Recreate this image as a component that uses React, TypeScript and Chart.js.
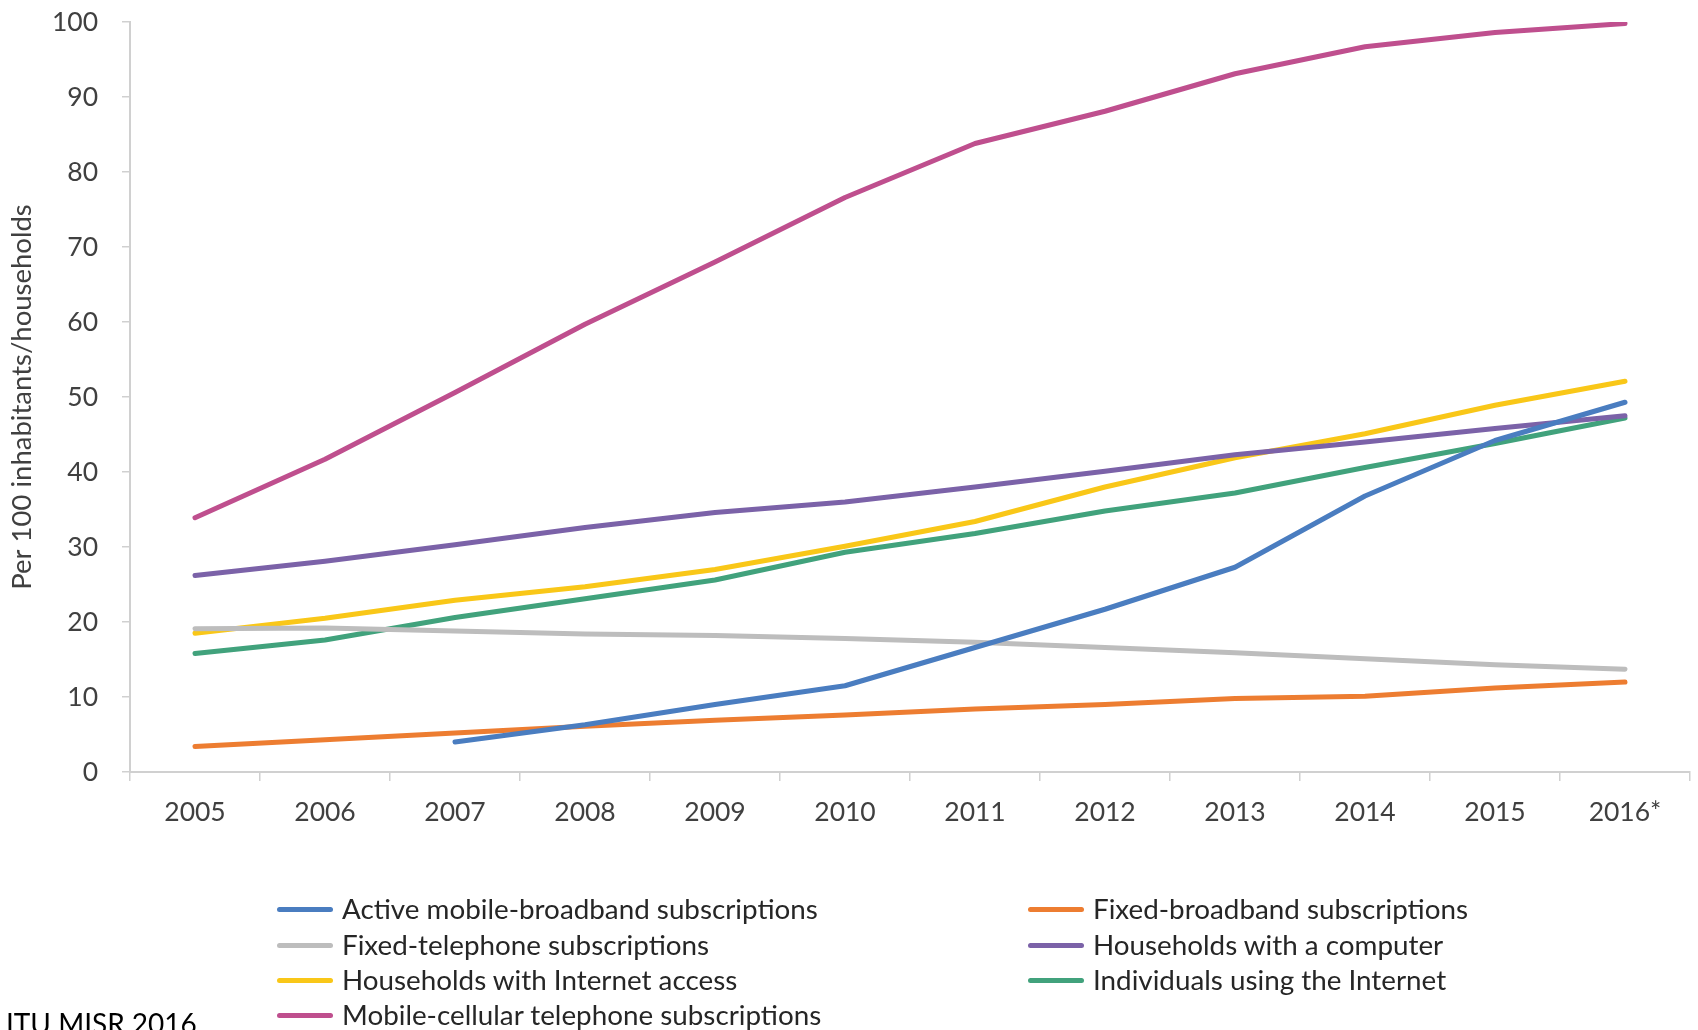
import React, { useEffect, useRef } from "react";
import { Chart, registerables } from "chart.js";

Chart.register(...registerables);

const years = ["2005", "2006", "2007", "2008", "2009", "2010", "2011", "2012", "2013", "2014", "2015", "2016*"];

const activeMobileBroadband = [null, null, 4.0, 6.3, 9.0, 11.5, 16.6, 21.7, 27.3, 36.8, 44.2, 49.3];
const fixedBroadband = [3.4, 4.3, 5.2, 6.1, 6.9, 7.6, 8.4, 9.0, 9.8, 10.1, 11.2, 12.0];
const fixedTelephone = [19.1, 19.2, 18.8, 18.4, 18.2, 17.8, 17.3, 16.6, 15.9, 15.1, 14.3, 13.7];
const householdsComputer = [26.2, 28.1, 30.3, 32.6, 34.6, 36.0, 38.0, 40.1, 42.3, 44.0, 45.8, 47.5];
const householdsInternet = [18.5, 20.5, 22.9, 24.7, 27.0, 30.1, 33.4, 38.0, 41.9, 45.1, 48.9, 52.1];
const individualsInternet = [15.8, 17.6, 20.6, 23.1, 25.6, 29.3, 31.8, 34.8, 37.2, 40.6, 43.8, 47.2];
const mobileCellular = [33.9, 41.7, 50.6, 59.7, 68.0, 76.6, 83.8, 88.1, 93.1, 96.7, 98.6, 99.8];

const seriesNames = [
  "Active mobile-broadband subscriptions",
  "Fixed-broadband subscriptions",
  "Fixed-telephone subscriptions",
  "Households with a computer",
  "Households with Internet access",
  "Individuals using the Internet",
  "Mobile-cellular telephone subscriptions",
];
const seriesValues = [
  activeMobileBroadband,
  fixedBroadband,
  fixedTelephone,
  householdsComputer,
  householdsInternet,
  individualsInternet,
  mobileCellular,
];
const seriesColors = ["#4A7DC0", "#ED7D31", "#BDBDBD", "#7B62A8", "#F9C718", "#41A27C", "#BF4F8E"];

const yTitle = "Per 100 inhabitants/households";
const sourceNote = "ITU MISR 2016";

const FONT = "Lato, 'Open Sans', sans-serif";
const W = 1698;
const H = 1030;

export default function App() {
  const canvasRef = useRef<HTMLCanvasElement | null>(null);

  useEffect(() => {
    document.body.style.margin = "0";
    const ctx = canvasRef.current!.getContext("2d")!;
    const chart = new Chart(ctx, {
      type: "line",
      data: {
        labels: years,
        datasets: seriesNames.map((name, i) => ({
          label: name,
          data: seriesValues[i],
          borderColor: seriesColors[i],
          backgroundColor: seriesColors[i],
          borderWidth: 5,
          pointRadius: 0,
          pointHoverRadius: 0,
          tension: 0,
          borderCapStyle: "round" as const,
          borderJoinStyle: "round" as const,
          spanGaps: false,
        })),
      },
      options: {
        responsive: false,
        animation: false,
        devicePixelRatio: 1,
        layout: { padding: { left: 0, top: 22, right: 8, bottom: 198 } },
        plugins: {
          legend: { display: false },
          tooltip: { enabled: false },
          title: { display: false },
        },
        scales: {
          x: {
            type: "category",
            offset: true,
            grid: {
              offset: true,
              drawOnChartArea: false,
              drawTicks: true,
              tickLength: 9,
              color: "#D0D0D0",
              lineWidth: 1.5,
            },
            border: { color: "#D0D0D0", width: 2 },
            ticks: {
              color: "#404040",
              font: { family: FONT, size: 26.5 },
              padding: 16,
              maxRotation: 0,
              autoSkip: false,
            },
            afterFit: (scale: any) => {
              scale.height = 60;
              scale.paddingLeft = 0;
              scale.paddingRight = 0;
            },
          },
          y: {
            min: 0,
            max: 100,
            grid: {
              drawOnChartArea: false,
              drawTicks: true,
              tickLength: 8,
              color: "#D0D0D0",
              lineWidth: 1.5,
            },
            border: { color: "#D0D0D0", width: 2 },
            ticks: {
              stepSize: 10,
              color: "#404040",
              font: { family: FONT, size: 26.5 },
              padding: 24,
            },
            title: {
              display: true,
              text: yTitle,
              color: "#404040",
              font: { family: FONT, size: 27.5 },
              padding: { top: 6, bottom: 0 },
            },
            afterFit: (scale: any) => {
              scale.width = 130;
              scale.paddingTop = 0;
              scale.paddingBottom = 0;
            },
          },
        },
      },
    });
    return () => chart.destroy();
  }, []);

  const col1LineX = 277;
  const col2LineX = 1028;
  const rowYs = [909, 945, 980, 1015];

  return (
    <div style={{ position: "absolute", left: 0, top: 0, width: W, height: H, overflow: "hidden", background: "#fff" }}>
      <canvas ref={canvasRef} width={W} height={H} style={{ position: "absolute", left: 0, top: 0, width: W, height: H }} />
      {seriesNames.map((name, i) => {
        const col = i % 2;
        const row = Math.floor(i / 2);
        const lx = col === 0 ? col1LineX : col2LineX;
        const y = rowYs[row];
        return (
          <div key={name}>
            <div
              style={{
                position: "absolute",
                left: lx,
                top: y - 2.5,
                width: 56,
                height: 5,
                borderRadius: 2.5,
                background: seriesColors[i],
              }}
            />
            <div
              style={{
                position: "absolute",
                left: lx + 65,
                top: y - 18,
                height: 36,
                lineHeight: "36px",
                fontFamily: FONT,
                fontSize: 27.8,
                color: "#262626",
                whiteSpace: "nowrap",
              }}
            >
              {name}
            </div>
          </div>
        );
      })}
      <div
        style={{
          position: "absolute",
          left: 6,
          top: 1005,
          lineHeight: "36px",
          fontFamily: FONT,
          fontSize: 28,
          color: "#000",
          whiteSpace: "nowrap",
        }}
      >
        {sourceNote}
      </div>
    </div>
  );
}
